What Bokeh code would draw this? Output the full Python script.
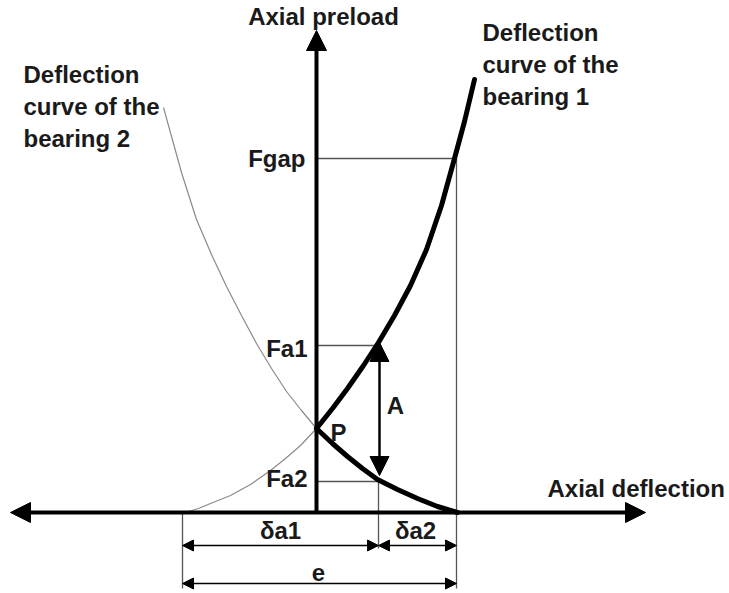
import numpy as np
from bokeh.plotting import figure
from bokeh.models import Range1d, Arrow, NormalHead
from bokeh.core.properties import value
from bokeh.embed import file_html
from bokeh.resources import INLINE

# ---- data (diagram units: deflection to the right, preload upward; origin at axis crossing) ----
bearing1_defl = [-131, -118, -106, -86, -66, -46, -31, -16, 0, 16, 31, 47, 62, 78, 94, 110, 125, 138, 148, 158]
bearing1_load = [0, 4, 9, 17, 28, 42, 54, 67, 84, 104, 124, 147, 170, 197, 227, 263, 307, 354, 391, 433]
bearing2_defl = [141, 121, 101, 81, 61, 46, 31, 16, 0, -15, -30, -45, -60, -75, -90, -105, -120, -135, -153]
bearing2_load = [0, 6, 14, 23, 33, 44, 56, 69, 84, 102, 121, 144, 169, 197, 226, 258, 293, 340, 405]

F_gap = 354
F_a1 = 167
F_a2 = 31
delta_start = -134     # zero of bearing 1 deflection
delta_split = 62       # end of δa1 / start of δa2
delta_end = 140        # zero of bearing 2 deflection (end of e)
axis_x_min, axis_x_max = -306, 329
axis_y_max = 482
dim_y1 = -33
dim_y2 = -71
ext_bottom = -76
A_top, A_bottom = 170, 37

FONT = value("Liberation Sans")

p = figure(width=729, height=593, x_range=Range1d(-316, 413), y_range=Range1d(-81, 512),
           output_backend="svg", toolbar_location=None, min_border=0,
           x_axis_type=None, y_axis_type=None)
p.grid.visible = False
p.outline_line_color = None
p.background_fill_color = "white"

thin = dict(line_color="#555555", line_width=1.3)

# reference lines
p.segment(x0=[0, delta_end, 0, 0, delta_split, delta_start],
          y0=[F_gap, F_gap, F_a1, F_a2, F_a2, 0],
          x1=[delta_end, delta_end, delta_split, delta_split, delta_split, delta_start],
          y1=[F_gap, ext_bottom, F_a1, F_a2, dim_y1 - 3, ext_bottom], **thin)

# curves
b1x = np.array(bearing1_defl); b1y = np.array(bearing1_load)
b2x = np.array(bearing2_defl); b2y = np.array(bearing2_load)
p.line(b1x[b1x <= 0], b1y[b1x <= 0], line_color="#8a8a8a", line_width=1.2)
p.line(b2x[b2x <= 0], b2y[b2x <= 0], line_color="#8a8a8a", line_width=1.2)
p.line(b1x[b1x >= 0], b1y[b1x >= 0], line_color="black", line_width=5, line_cap="round", line_join="round")
p.line(b2x[b2x >= 0], b2y[b2x >= 0], line_color="black", line_width=5, line_cap="round", line_join="round")

def head(s):
    return NormalHead(size=s, fill_color="black", line_color="black", line_width=1)

# axes
p.add_layout(Arrow(x_start=axis_x_min, y_start=0, x_end=axis_x_max, y_end=0,
                   start=head(20), end=head(20), line_width=4, line_color="black"))
p.add_layout(Arrow(x_start=0, y_start=0, x_end=0, y_end=axis_y_max,
                   end=head(20), line_width=4, line_color="black"))
# A arrow
p.add_layout(Arrow(x_start=delta_split + 1, y_start=A_bottom, x_end=delta_split + 1, y_end=A_top,
                   start=head(19), end=head(19), line_width=2.5, line_color="black"))
# dimension arrows
for xs, xe, yy in [(delta_start, delta_split, dim_y1), (delta_split, delta_end, dim_y1),
                   (delta_start, delta_end, dim_y2)]:
    p.add_layout(Arrow(x_start=xs, y_start=yy, x_end=xe, y_end=yy,
                       start=head(11), end=head(11), line_width=1.5, line_color="black"))

txt = dict(text_font=FONT, text_font_size="24px", text_font_style="bold", text_color="#1a1a1a")

p.text(x=[7], y=[496], text=["Axial preload"], text_align="center", text_baseline="middle", **txt)
p.text(x=[231], y=[24], text=["Axial deflection"], text_align="left", text_baseline="middle", **txt)
p.text(x=[-11, -9, -9], y=[F_gap, F_a1 - 3, F_a2 + 3], text=["Fgap", "Fa1", "Fa2"],
       text_align="right", text_baseline="middle", **txt)
p.text(x=[22, 79, -36, 99, 2], y=[80, 107, -18, -18, -60], text=["P", "A", "δa1", "δa2", "e"],
       text_align="center", text_baseline="middle", **txt)
p.text(x=[-293, 166], y=[406, 448],
       text=["Deflection\ncurve of the\nbearing 2", "Deflection\ncurve of the\nbearing 1"],
       text_align="left", text_baseline="middle", text_line_height=1.2, **txt)

open("out.html", "w").write(file_html(p, INLINE))
